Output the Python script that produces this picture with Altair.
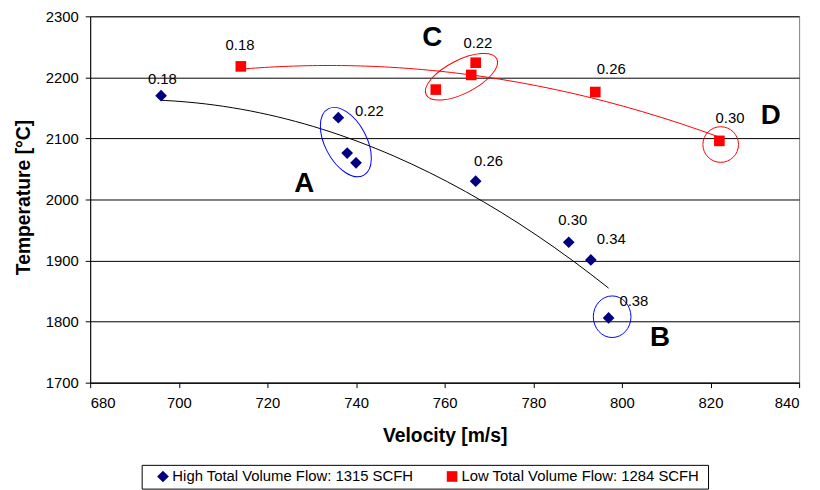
import altair as alt
import pandas as pd

# ---------------- data ----------------
series_names = ["High Total Volume Flow: 1315 SCFH", "Low Total Volume Flow: 1284 SCFH"]

high_velocity = [696, 736, 738, 740, 767, 788, 793, 797]
high_temperature = [2170, 2134, 2076, 2060, 2030, 1930, 1901, 1806]

low_velocity = [714, 758, 766, 767, 794, 822]
low_temperature = [2218, 2180, 2204, 2224, 2176, 2096]

# value labels and where they sit (data units)
high_label_text = ["0.18", "0.22", "0.26", "0.30", "0.34", "0.38"]
high_label_vel = [696.3, 743.0, 769.9, 788.9, 797.6, 802.7]
high_label_temp = [2198, 2145, 2063, 1967, 1935, 1834]

low_label_text = ["0.18", "0.22", "0.26", "0.30"]
low_label_vel = [713.8, 767.5, 797.6, 824.4]
low_label_temp = [2253, 2257, 2213, 2134]

# region letters
letter_text = ["A", "B", "C", "D"]
letter_vel = [728.3, 808.6, 757.2, 833.6]
letter_temp = [2026, 1773, 2264, 2136]

# highlight ellipse centres
ellipse_vel = [737.7, 797.8, 763.8, 822.3]
ellipse_temp = [2094, 1808, 2201, 2090]

x_ticks = [680, 700, 720, 740, 760, 780, 800, 820, 840]
y_ticks = [1700, 1800, 1900, 2000, 2100, 2200, 2300]

# ---------------- tables ----------------
points = pd.DataFrame({
    "velocity": high_velocity + low_velocity,
    "temperature": high_temperature + low_temperature,
    "series": [series_names[0]] * len(high_velocity) + [series_names[1]] * len(low_velocity),
})
labels = pd.DataFrame({
    "velocity": high_label_vel + low_label_vel,
    "temperature": high_label_temp + low_label_temp,
    "text": high_label_text + low_label_text,
})
letters = pd.DataFrame({"velocity": letter_vel, "temperature": letter_temp, "text": letter_text})

FONT = "Liberation Sans"
FS = 15
PLOT_H = 370
xscale = alt.Scale(domain=[680, 840], nice=False, zero=False)
yscale = alt.Scale(domain=[1700, 2300], nice=False, zero=False)

X = alt.X("velocity:Q", scale=xscale, axis=alt.Axis(
    values=x_ticks, format="d", title="Velocity [m/s]", grid=False, domainColor="#000", tickColor="#000",
    tickSize=5, labelPadding=8, labelFontSize=FS, labelFont=FONT, labelColor="#000",
    titleFont=FONT, titleFontSize=19.5, titleFontWeight="bold", titleColor="#000",
    titleBaseline="alphabetic", titleY=59))
Y = alt.Y("temperature:Q", scale=yscale, axis=alt.Axis(
    values=y_ticks, format="d", title="Temperature [°C]", grid=True, gridColor="#000", gridWidth=1,
    domainColor="#000", tickColor="#000", tickSize=5, labelPadding=7,
    labelFontSize=FS, labelFont=FONT, labelColor="#000",
    titleFont=FONT, titleFontSize=19.5, titleFontWeight="bold", titleColor="#000",
    titleBaseline="alphabetic", titleX=-61, titleY=182.5, titleAngle=270))

legend = alt.Legend(title="\u00a0", titleOrient="right", titlePadding=5, titleFontSize=FS,
                    titleFont=FONT)

base = alt.Chart(points)

markers = base.mark_point(filled=True, opacity=1, strokeWidth=0).encode(
    x=X, y=Y,
    color=alt.Color("series:N", scale=alt.Scale(domain=series_names, range=["#000080", "#ff0000"]),
                    legend=legend),
    shape=alt.Shape("series:N", scale=alt.Scale(domain=series_names, range=["diamond", "square"]),
                    legend=legend),
    size=alt.Size("series:N", scale=alt.Scale(domain=series_names, range=[140, 115]), legend=None),
)

trend_high = base.transform_filter(alt.datum.series == series_names[0]).transform_regression(
    "velocity", "temperature", method="poly", order=2
).mark_line(color="#000", strokeWidth=1).encode(x="velocity:Q", y="temperature:Q")

trend_low = base.transform_filter(alt.datum.series == series_names[1]).transform_regression(
    "velocity", "temperature", method="poly", order=2
).mark_line(color="#ff0000", strokeWidth=1).encode(x="velocity:Q", y="temperature:Q")

value_text = alt.Chart(labels).mark_text(
    font=FONT, fontSize=FS, color="#000", align="center", baseline="middle"
).encode(x="velocity:Q", y="temperature:Q", text="text:N")

letter_layer = alt.Chart(letters).mark_text(
    font=FONT, fontSize=28, fontWeight="bold", color="#000", align="center", baseline="middle"
).encode(x="velocity:Q", y="temperature:Q", text="text:N")

# ellipse styles: (path, size, angle, colour)
ellipse_styles = [
    ("M -1 0 A 1 0.553 0 1 0 1 0 A 1 0.553 0 1 0 -1 0 Z", 5776, 62, "#0000ff"),
    ("M -0.905 0 A 0.905 1 0 1 0 0.905 0 A 0.905 1 0 1 0 -0.905 0 Z", 1764, 0, "#0000ff"),
    ("M -1 0 A 1 0.42 0 1 0 1 0 A 1 0.42 0 1 0 -1 0 Z", 6400, 333, "#ff0000"),
    ("M -1 0 A 1 1 0 1 0 1 0 A 1 1 0 1 0 -1 0 Z", 1296, 0, "#ff0000"),
]
ellipse_layers = []
for i, (path, size, angle, col) in enumerate(ellipse_styles):
    df = pd.DataFrame({"velocity": [ellipse_vel[i]], "temperature": [ellipse_temp[i]]})
    ellipse_layers.append(
        alt.Chart(df).mark_point(shape=path, size=size, angle=angle, stroke=col, filled=False,
                                 strokeWidth=1, opacity=1).encode(x="velocity:Q", y="temperature:Q")
    )

chart = alt.layer(trend_high, trend_low, *ellipse_layers, markers, value_text, letter_layer).properties(
    width=716, height=PLOT_H,
    autosize=alt.AutoSizeParams(type="none"),
    padding={"left": 83, "top": 6, "right": 13, "bottom": 106},
    background="white",
).configure_view(
    stroke="#808080", strokeWidth=1
).configure_legend(
    orient="none", legendX=52, legendY=453, direction="horizontal",
    strokeColor="#000", fillColor="white", padding=4, symbolOffset=10,
    labelFont=FONT, labelFontSize=FS, labelColor="#000", labelLimit=0, labelOffset=2,
    symbolSize=60, symbolStrokeWidth=0, columnPadding=21,
)

chart.save("out.html", embed_options={"renderer": "svg", "actions": False})
